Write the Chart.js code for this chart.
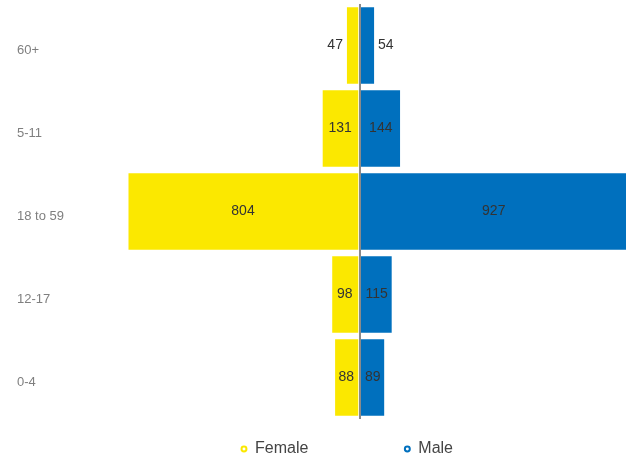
<!DOCTYPE html>
<html>
<head>
<meta charset="utf-8">
<script src="https://cdn.jsdelivr.net/npm/chart.js@4/dist/chart.umd.min.js"></script>
<style>
  html, body { margin: 0; padding: 0; background: #fff; }
  #wrap { width: 630px; height: 457px; position: relative; }
</style>
</head>
<body>
<div id="wrap"><canvas id="c"></canvas></div>
<script>
const categories = ["60+", "5-11", "18 to 59", "12-17", "0-4"];
const femaleValues = [47, 131, 804, 98, 88];
const maleValues = [54, 144, 927, 115, 89];
const seriesNames = ["Female", "Male"];

const FEMALE_COLOR = "#FBE800";
const MALE_COLOR = "#0070BE";
const axisMax = Math.max(...femaleValues, ...maleValues);

const labelPlugin = {
  id: "barLabels",
  afterDatasetsDraw(chart) {
    const ctx = chart.ctx;
    ctx.save();
    ctx.font = "14px 'Liberation Sans', Arial, sans-serif";
    ctx.fillStyle = "#333";
    ctx.textBaseline = "middle";
    chart.data.datasets.forEach((ds, i) => {
      const meta = chart.getDatasetMeta(i);
      const raw = i === 0 ? femaleValues : maleValues;
      meta.data.forEach((bar, j) => {
        const p = bar.getProps(["x", "base", "y"], true);
        const w = Math.abs(p.x - p.base);
        const txt = String(raw[j]);
        const tw = ctx.measureText(txt).width;
        if (tw + 4 <= w) {
          ctx.textAlign = "center";
          ctx.fillText(txt, (p.x + p.base) / 2, p.y);
        } else if (i === 0) {
          ctx.textAlign = "right";
          ctx.fillText(txt, Math.min(p.x, p.base) - 3, p.y);
        } else {
          ctx.textAlign = "left";
          ctx.fillText(txt, Math.max(p.x, p.base) + 3, p.y);
        }
      });
    });
    ctx.restore();
  }
};

const legendPlace = {
  id: "legendPlace",
  afterLayout(chart) {
    const lg = chart.legend;
    if (!lg) return;
    const pad = lg.options.labels.padding;
    lg.left = 64;
    lg.right = 630;
    lg.top = 449 - pad - 8;
  }
};

new Chart(document.getElementById("c"), {
  type: "bar",
  data: {
    labels: categories,
    datasets: [
      {
        label: seriesNames[0],
        data: femaleValues.map(v => -v),
        backgroundColor: FEMALE_COLOR,
        borderColor: "rgba(255,255,255,0.25)",
        borderWidth: 1,
        barPercentage: 0.945,
        categoryPercentage: 1
      },
      {
        label: seriesNames[1],
        data: maleValues,
        backgroundColor: MALE_COLOR,
        borderColor: "rgba(255,255,255,0.25)",
        borderWidth: 1,
        barPercentage: 0.945,
        categoryPercentage: 1
      }
    ]
  },
  options: {
    indexAxis: "y",
    responsive: true,
    maintainAspectRatio: false,
    animation: false,
    layout: { padding: { top: 4, right: 3, left: 17, bottom: 0 } },
    scales: {
      x: {
        stacked: true,
        min: -axisMax,
        max: axisMax,
        ticks: { display: false },
        border: { display: false },
        grid: {
          drawTicks: false,
          z: 1,
          lineWidth: 2,
          color: (c) => (c.tick && c.tick.value === 0 ? "#8a8a8a" : "rgba(0,0,0,0)")
        }
      },
      y: {
        stacked: true,
        border: { display: false },
        grid: { display: false, drawTicks: false },
        ticks: {
          crossAlign: "far",
          labelOffset: 5,
          color: "#7f7f7f",
          font: { family: "'Liberation Sans', Arial, sans-serif", size: 13 }
        },
        afterFit(scale) {
          scale.width = 75;
          scale.paddingTop = 0;
          scale.paddingBottom = 0;
        }
      }
    },
    plugins: {
      tooltip: { enabled: false },
      legend: {
        position: "bottom",
        maxHeight: 38,
        labels: {
          usePointStyle: true,
          pointStyle: "circle",
          boxWidth: 6,
          boxHeight: 3.5,
          padding: 96,
          color: "#444",
          font: { family: "'Liberation Sans', Arial, sans-serif", size: 16 },
          generateLabels(chart) {
            return chart.data.datasets.map((ds, i) => ({
              text: ds.label,
              fillStyle: "#fff",
              strokeStyle: ds.backgroundColor,
              lineWidth: 2,
              pointStyle: "circle",
              hidden: false,
              datasetIndex: i,
              fontColor: "#444"
            }));
          }
        }
      }
    }
  },
  plugins: [labelPlugin, legendPlace]
});
</script>
</body>
</html>
